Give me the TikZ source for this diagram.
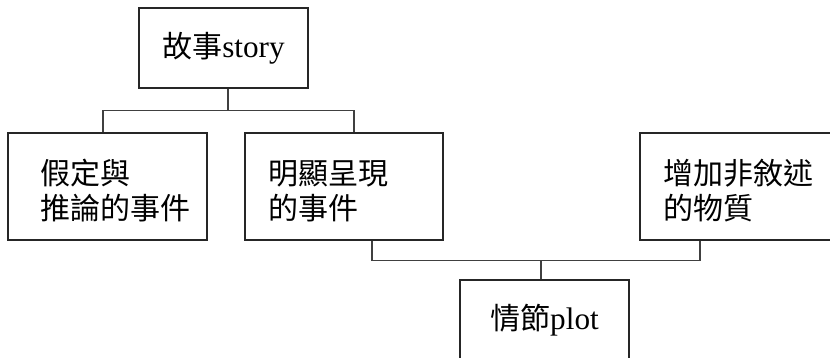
\documentclass[tikz,border=0pt]{standalone}
\usepackage{fontspec}
\setmainfont{Liberation Serif}[Scale=1.04]
\newfontfamily\cjk{Noto Sans CJK TC}
\newcommand{\toppad}{\rule{0pt}{34pt}}
\begin{document}
\begin{tikzpicture}[x=1pt,y=-1pt,
  box/.style={draw=black!85, line width=1.3pt, rectangle, inner ysep=0pt,
    font=\fontsize{30}{35}\selectfont},
  link/.style={draw=black!75, line width=1.3pt}]
\useasboundingbox (0,0) rectangle (830,358);
\node[box, minimum width=169pt, minimum height=80pt, align=center] (story) at (223.5,48) {{\cjk 故事}story};
\node[box, minimum width=199pt, minimum height=107pt, inner xsep=32pt, text width=135pt, align=left] (assumed) at (107.5,186.5) {\cjk\toppad 假定與\\推論的事件};
\node[box, minimum width=198pt, minimum height=107pt, inner xsep=23pt, text width=152pt, align=left] (explicit) at (344,186.5) {\cjk\toppad 明顯呈現\\的事件};
\node[box, minimum width=200pt, minimum height=107pt, inner xsep=23pt, text width=154pt, align=left] (nonnarr) at (740,186.5) {\cjk\toppad 增加非敘述\\的物質};
\node[box, minimum width=169pt, minimum height=80pt, align=center] (plot) at (544.5,320) {{\cjk 情節}plot};
\coordinate (pt) at ([xshift=-3.5]plot.north);
\draw[link] ([xshift=4.5]story.south) -- ++(0,22) coordinate (j1);
\draw[link] ([xshift=-4.5]assumed.north) |- (j1) -| ([xshift=10]explicit.north);
\draw[link] ([xshift=28]explicit.south) -- ++(0,20) coordinate (j2) -| ([xshift=-40]nonnarr.south);
\draw[link] (pt) -- (pt |- j2);
\end{tikzpicture}
\end{document}
